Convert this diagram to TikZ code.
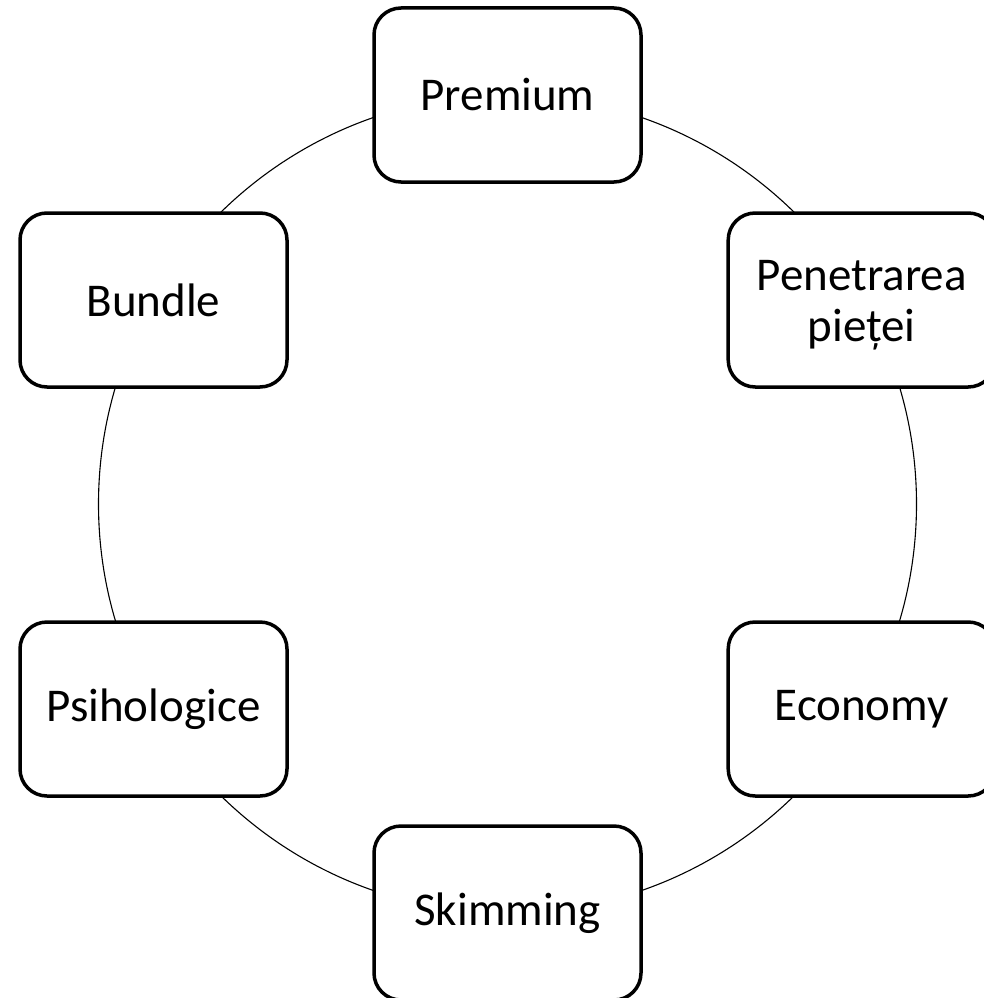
\documentclass[tikz,border=0pt]{standalone}
\usepackage{fontspec}
\setmainfont{Carlito}
\begin{document}
\begin{tikzpicture}[x=1pt,y=-1pt,
  box/.style={draw, line width=3.5pt, rounded corners=27pt, minimum width=267pt, minimum height=174pt, fill=white, align=center, inner sep=0pt, font=\fontsize{47}{51}\selectfont},
  ring/.style={draw, line width=1.1pt}]
\useasboundingbox (0,0) rectangle (984,998);
\clip (0,0) rectangle (984,998);
\coordinate (c) at (507.5,504);
\draw[ring] (c) circle[radius=409];
\node[box] (premium) at (507.5,95) {Premium};
\node[box] (penetrare) at (861.7,300) {\raisebox{-5pt}[\height][\depth]{\parbox{260pt}{\centering Penetrarea\\pieței}}};
\node[box] (economy) at (861.7,709) {Economy};
\node[box] (skimming) at (507.5,913) {Skimming};
\node[box] (psiho) at (153.5,709) {Psihologice};
\node[box] (bundle) at (153.5,300) {Bundle};
\end{tikzpicture}
\end{document}
